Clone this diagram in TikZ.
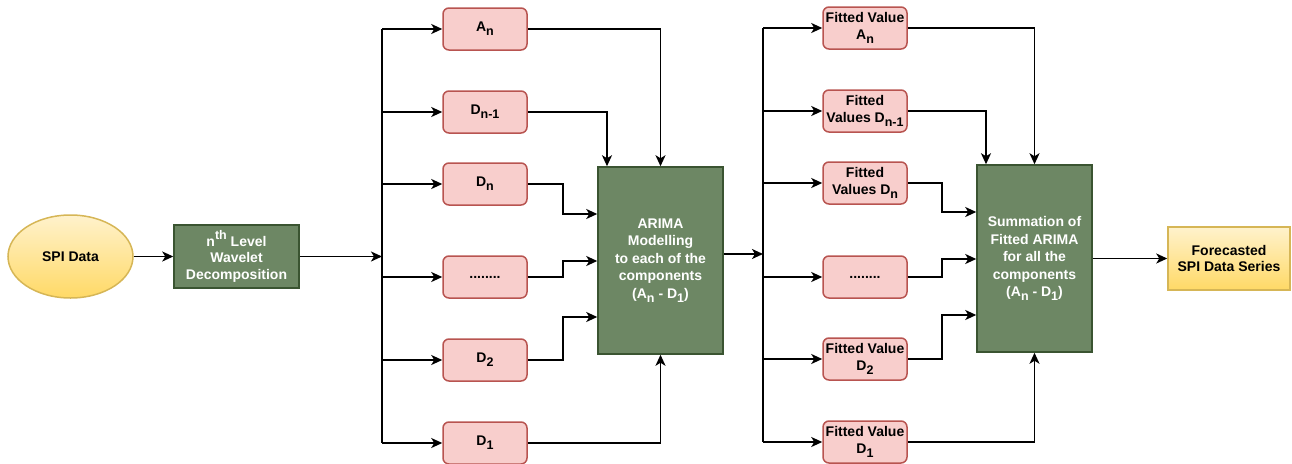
\documentclass[tikz,border=0pt]{standalone}
\usepackage{fontspec}
\setmainfont{Liberation Sans}
\usetikzlibrary{shapes.geometric,arrows.meta}
\definecolor{pinkfill}{HTML}{F8CECC}
\definecolor{pinkline}{HTML}{B85450}
\definecolor{greenfill}{HTML}{6D8764}
\definecolor{greenline}{HTML}{3A5431}
\definecolor{yeltop}{HTML}{FFF2CC}
\definecolor{yelbot}{HTML}{FFD966}
\definecolor{yelline}{HTML}{D6B656}
\newcommand{\lo}[1]{\raisebox{-0.28em}{\fontsize{12.5}{12.5}\selectfont #1}}
\newcommand{\hi}[1]{\raisebox{0.45em}{\fontsize{12.5}{12.5}\selectfont #1}}
\begin{document}
\begin{tikzpicture}[x=1pt,y=-1pt,
 base/.style={inner sep=0pt, font=\fontsize{14}{16.5}\selectfont\bfseries, align=center, line width=1.5pt},
 pinkbox/.style={base, draw=pinkline, fill=pinkfill, rounded corners=6pt, minimum width=84pt, minimum height=42pt},
 greenbox/.style={base, draw=greenline, fill=greenfill, text=white},
 yelbox/.style={base, draw=yelline, top color=yeltop, bottom color=yelbot},
 wire/.style={line width=1.7pt, black},
 arr/.style={wire, -{Stealth[length=11pt,width=10pt,inset=3pt]}},
]
\useasboundingbox (0,0) rectangle (1292,463);

% input and decomposition
\node[yelbox, ellipse, minimum width=125pt, minimum height=83pt] (spi) at (70.5,256.5) {SPI Data};
\node[greenbox, minimum width=125pt, minimum height=63pt] (wav) at (236.5,256.5) {n\hi{th} Level\\Wavelet\\Decomposition};

\coordinate (bus1) at (382,0);
\coordinate (bus2) at (763,0);

% components
\node[pinkbox] (An)  at (485,29)  {A\lo{n}};
\node[pinkbox] (Dn1) at (485,112) {D\lo{n-1}};
\node[pinkbox] (Dn)  at (485,184) {D\lo{n}};
\node[pinkbox] (Ld)  at (485,277) {........};
\node[pinkbox] (D2)  at (485,360) {D\lo{2}};
\node[pinkbox] (D1)  at (485,443) {D\lo{1}};

\node[greenbox, minimum width=125pt, minimum height=187pt, font=\fontsize{14}{17.5}\selectfont\bfseries] (arima) at (660.5,260.5)
  {ARIMA\\Modelling\\to each of the\\components\\(A\lo{n} - D\lo{1})};

% fitted values
\node[pinkbox] (FAn)  at (865,28)  {Fitted Value\\A\lo{n}};
\node[pinkbox] (FDn1) at (865,111) {Fitted\\Values D\lo{n-1}};
\node[pinkbox] (FDn)  at (865,183) {Fitted\\Values D\lo{n}};
\node[pinkbox] (FLd)  at (865,277) {........};
\node[pinkbox] (FD2)  at (865,359) {Fitted Value\\D\lo{2}};
\node[pinkbox] (FD1)  at (865,442) {Fitted Value\\D\lo{1}};

\node[greenbox, minimum width=115pt, minimum height=187pt, font=\fontsize{14}{17.5}\selectfont\bfseries] (sum) at (1034.5,258.5)
  {Summation of\\Fitted ARIMA\\for all the\\components\\(A\lo{n} - D\lo{1})};

\node[yelbox, minimum width=122pt, minimum height=63pt] (fc) at (1229,258.5) {Forecasted\\SPI Data Series};

% connectors
\draw[arr] (spi.east) -- (wav.west);
\draw[arr] (wav.east) -- (wav.east -| bus1);
\draw[wire] (An.west -| bus1) -- (D1.west -| bus1);
\foreach \n in {An,Dn1,Dn,Ld,D2,D1} \draw[arr] (\n.west -| bus1) -- (\n.west);

\draw[arr] (An.east) -| (arima.north);
\draw[arr] (Dn1.east) -| ([xshift=-53.5pt]arima.north);
\draw[arr] (Dn.east) -- ++(35,0) |- ([yshift=46.5pt]arima.west);
\draw[arr] (Ld.east) -- ++(35,0) |- ([yshift=-0.5pt]arima.west);
\draw[arr] (D2.east) -- ++(35,0) |- ([yshift=-56.5pt]arima.west);
\draw[arr] (D1.east) -| (arima.south);

\draw[arr] ([yshift=6.5pt]arima.east) -- ([yshift=6.5pt]arima.east -| bus2);
\draw[wire] (FAn.west -| bus2) -- (FD1.west -| bus2);
\foreach \n in {FAn,FDn1,FDn,FLd,FD2,FD1} \draw[arr] (\n.west -| bus2) -- (\n.west);

\draw[arr] (FAn.east) -| (sum.north);
\draw[arr] (FDn1.east) -| ([xshift=-48.5pt]sum.north);
\draw[arr] (FDn.east) -- ++(34,0) |- ([yshift=46.5pt]sum.west);
\draw[arr] (FLd.east) -- ++(34,0) |- ([yshift=-0.5pt]sum.west);
\draw[arr] (FD2.east) -- ++(34,0) |- ([yshift=-56.5pt]sum.west);
\draw[arr] (FD1.east) -| (sum.south);

\draw[arr] (sum.east) -- (fc.west);
\end{tikzpicture}
\end{document}
